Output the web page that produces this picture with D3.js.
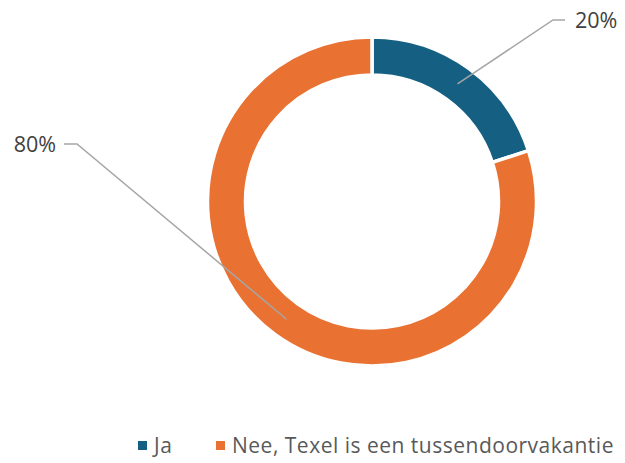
<!DOCTYPE html>
<html>
<head>
<meta charset="utf-8">
<script src="https://cdn.jsdelivr.net/npm/d3@7"></script>
<style>
  body { margin: 0; background: #fff; }
  svg text { font-family: "Open Sans", "Noto Sans", sans-serif; }
</style>
</head>
<body>
<div id="chart-area"></div>
<script>
// data
const categories = ["Ja", "Nee, Texel is een tussendoorvakantie"];
const values = [20, 80];
const colours = ["#156082", "#E97132"];

const width = 625, height = 463;
const cx = 372, cy = 201.5;
const outerR = 164.5, innerR = 126.5;

const svg = d3.select("#chart-area")
  .append("svg")
    .attr("width", width)
    .attr("height", height);

const data = categories.map((c, i) => ({cat: c, value: values[i], colour: colours[i]}));

const pie = d3.pie().sort(null).value(d => d.value);
const arc = d3.arc().innerRadius(innerR).outerRadius(outerR);
const arcs = pie(data);

const g = svg.append("g").attr("transform", `translate(${cx},${cy})`);

g.selectAll("path")
  .data(arcs)
  .join("path")
    .attr("d", arc)
    .attr("fill", d => d.data.colour)
    .attr("stroke", "#fff")
    .attr("stroke-width", 3.5);

// leader lines + labels (label spots where Excel put them)
const labelSpots = [
  {bend: [553, 20], end: [565, 20], tx: 575, ty: 28, anchor: "start"},
  {bend: [77, 144], end: [64, 144], tx: 56, ty: 152, anchor: "end"}
];

arcs.forEach((a, i) => {
  const c = arc.centroid(a);
  const s = labelSpots[i];
  svg.append("polyline")
    .attr("points", [[cx + c[0], cy + c[1]], s.bend, s.end].map(p => p.join(",")).join(" "))
    .attr("fill", "none")
    .attr("stroke", "#A6A6A6")
    .attr("stroke-width", 1.5);
  svg.append("text")
    .attr("x", s.tx)
    .attr("y", s.ty)
    .attr("text-anchor", s.anchor)
    .attr("font-size", 21.5)
    .attr("fill", "#404040")
    .text(Math.round(a.data.value / d3.sum(values) * 100) + "%");
});

// legend
const legendX = [138, 216];
const legend = svg.append("g");
data.forEach((d, i) => {
  legend.append("rect")
    .attr("x", legendX[i])
    .attr("y", 441)
    .attr("width", 9)
    .attr("height", 9)
    .attr("fill", d.colour);
  legend.append("text")
    .attr("x", legendX[i] + 16)
    .attr("y", 453)
    .attr("font-size", 21)
    .attr("letter-spacing", 0.5)
    .attr("fill", "#595959")
    .text(d.cat);
});
</script>
</body>
</html>
